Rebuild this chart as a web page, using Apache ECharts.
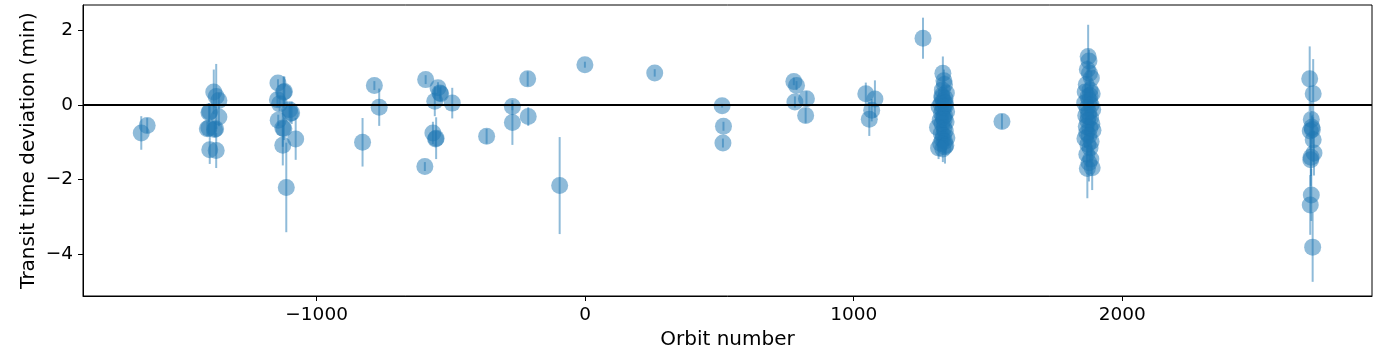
<!DOCTYPE html>
<html>
<head>
<meta charset="utf-8">
<script src="https://cdn.jsdelivr.net/npm/echarts@6/dist/echarts.min.js"></script>
<style>html,body{margin:0;padding:0;background:#fff}#c{width:1385px;height:355px}</style>
</head>
<body>
<div id="c"></div>
<script>
// Orbit number, transit time deviation (min), 1-sigma error (min)
const orbit = [
  -1653,-1631,
  -1383,-1374,-1364,-1401,-1398,-1364,-1407,-1401,-1380,-1376,-1398,-1374,
  -1144,-1123,-1120,-1146,-1138,-1101,-1093,-1098,-1143,-1122,-1126,-1126,-1078,-1113,
  -829,-785,-767,
  -594,-548,-538,-541,-560,-495,-567,-557,-555,-597,
  -367,-271,-271,-214,-212,-95,-1,259,510,515,513,
  777,787,781,824,821,1045,1079,1067,1058,1258,1552,
  1332,1336,1338,1330,1345,1328,1340,1334,1325,1342,1318,1331,1346,1327,1338,1333,1322,1344,
  1329,1312,1336,1341,1326,1334,1347,1330,1338,1324,1343,1316,1332,1340,1335,1329,1337,1341,
  1873,1876,1870,1885,1866,1880,1862,1888,1872,1878,1860,1884,1869,1890,1875,1864,1882,1871,
  1887,1866,1879,1891,1868,1876,1861,1884,1872,1880,1868,1883,1876,1870,1888,1878,1874,1880,
  2698,2711,2704,2708,2700,2711,2714,2702,2704,2700,2709,2706,2703
];
const ttv = [
  -0.75,-0.55,
  0.35,0.23,0.12,-0.20,-0.18,-0.32,-0.64,-0.62,-0.66,-0.64,-1.20,-1.22,
  0.59,0.34,0.36,0.14,0.03,-0.13,-0.21,-0.23,-0.41,-0.64,-0.62,-1.08,-0.91,-2.21,
  -1.00,0.52,-0.06,
  0.68,0.46,0.30,0.32,0.10,0.05,-0.75,-0.91,-0.89,-1.65,
  -0.84,-0.04,-0.47,0.70,-0.31,-2.16,1.08,0.86,-0.02,-0.57,-1.02,
  0.63,0.52,0.08,0.17,-0.28,0.30,0.16,-0.14,-0.38,1.79,-0.44,
  0.85,0.65,0.55,0.40,0.32,0.25,0.18,0.10,0.03,-0.02,-0.05,-0.12,-0.18,-0.22,-0.28,-0.33,-0.40,-0.45,
  -0.50,-0.60,-0.62,-0.70,-0.76,-0.82,-0.88,-0.93,-0.98,-1.03,-1.08,-1.15,-1.18,-1.12,-0.05,0.20,-0.38,0.05,
  1.30,1.18,0.95,0.72,0.55,0.40,0.35,0.30,0.22,0.12,0.05,0.00,-0.08,-0.12,-0.20,-0.28,-0.35,-0.42,
  -0.50,-0.58,-0.62,-0.68,-0.75,-0.82,-0.90,-0.98,-1.05,-1.15,-1.32,-1.45,-1.55,-1.70,-1.68,0.85,-0.30,0.25,
  0.70,0.30,-0.39,-0.66,-0.70,-0.93,-1.29,-1.47,-2.41,-2.68,-3.81,-0.60,-1.40
];
const err = [
  0.45,0.20,
  0.60,0.87,0.20,0.25,0.20,0.25,0.20,0.20,0.20,0.20,0.38,0.47,
  0.10,0.43,0.40,0.20,0.20,0.20,0.30,0.25,0.15,0.30,0.50,0.54,0.56,1.20,
  0.65,0.12,0.50,
  0.12,0.15,0.20,0.15,0.40,0.41,0.30,0.20,0.56,0.12,
  0.20,0.10,0.60,0.20,0.25,1.30,0.08,0.10,0.05,0.12,0.12,
  0.10,0.12,0.15,0.20,0.20,0.30,0.50,0.30,0.45,0.55,0.20,
  0.45,0.30,0.25,0.20,0.20,0.15,0.20,0.30,0.20,0.15,0.20,0.25,0.20,0.30,0.20,0.30,0.20,0.25,
  0.20,0.20,0.30,0.25,0.20,0.30,0.20,0.25,0.30,0.20,0.25,0.30,0.35,0.45,0.35,0.30,0.25,0.20,
  0.85,0.30,0.25,0.20,0.30,0.30,0.20,0.20,0.25,0.30,0.20,0.20,0.30,0.25,0.30,0.20,0.25,0.30,
  0.30,0.25,0.30,0.25,0.30,0.30,0.25,0.35,0.30,0.40,0.35,0.40,0.50,0.80,0.60,0.30,0.40,0.35,
  0.87,0.93,0.50,0.40,0.50,0.60,0.60,0.70,0.70,0.80,0.93,0.30,0.50
];
const xTicks = [-1000, 0, 1000, 2000];
const yTicks = [-4, -2, 0, 2];

const pts = orbit.map((x, i) => [x, ttv[i]]);
const bars = orbit.map((x, i) => [x, ttv[i] - err[i], ttv[i] + err[i]]);
const minusFmt = v => (v < 0 ? '\u2212' + Math.abs(v) : String(v));
const FONT = 'DejaVu Sans';
const C = '#1f77b4';

const chart = echarts.init(document.getElementById('c'), null, {renderer: 'canvas'});
chart.setOption({
  animation: false,
  backgroundColor: '#fff',
  grid: {left: 83, right: 13, top: 5, bottom: 59, show: true, borderColor: '#000', borderWidth: 1, outerBoundsMode: 'none', containLabel: false},
  xAxis: {
    type: 'value', min: -1870, max: 2930,
    name: 'Orbit number', nameLocation: 'middle', nameGap: 30,
    nameTextStyle: {fontFamily: FONT, fontSize: 20, color: '#000'},
    axisLine: {show: true, onZero: false, lineStyle: {color: '#000', width: 1}},
    axisTick: {show: true, length: 5, customValues: xTicks, lineStyle: {color: '#000', width: 1}},
    axisLabel: {show: true, customValues: xTicks, margin: 10, fontFamily: FONT, fontSize: 18.5, color: '#000', formatter: minusFmt},
    splitLine: {show: false}
  },
  yAxis: {
    type: 'value', min: -5.12, max: 2.68,
    name: 'Transit time deviation (min)', nameLocation: 'middle', nameGap: 44, nameMoveOverlap: false,
    nameTextStyle: {fontFamily: FONT, fontSize: 20, color: '#000'},
    axisLine: {show: true, onZero: false, lineStyle: {color: '#000', width: 1}},
    axisTick: {show: true, length: 5, customValues: yTicks, lineStyle: {color: '#000', width: 1}},
    axisLabel: {show: true, customValues: yTicks, margin: 10, fontFamily: FONT, fontSize: 18.5, color: '#000', formatter: minusFmt},
    splitLine: {show: false}
  },
  series: [
    {
      type: 'custom',
      data: bars,
      encode: {x: 0, y: [1, 2]},
      silent: true,
      z: 2,
      renderItem: function (params, api) {
        const x = api.value(0);
        const a = api.coord([x, api.value(1)]);
        const b = api.coord([x, api.value(2)]);
        return {type: 'line', shape: {x1: a[0], y1: a[1], x2: b[0], y2: b[1]},
                style: {stroke: 'rgba(31,119,180,0.5)', lineWidth: 2}};
      }
    },
    {
      type: 'scatter',
      data: pts,
      symbol: 'circle',
      symbolSize: 17,
      z: 3,
      itemStyle: {color: C, opacity: 0.5},
      markLine: {
        silent: true, symbol: 'none', animation: false,
        label: {show: false},
        lineStyle: {color: '#000', width: 2, type: 'solid'},
        data: [{yAxis: 0}]
      }
    }
  ]
});
</script>
</body>
</html>
